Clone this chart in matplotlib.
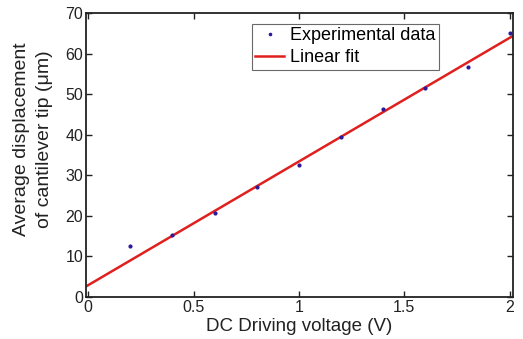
import numpy as np
import matplotlib
matplotlib.use("Agg")
import matplotlib.pyplot as plt

plt.rcParams['font.family'] = ['Liberation Sans', 'DejaVu Sans']

voltage = [0.2, 0.4, 0.6, 0.8, 1.0, 1.2, 1.4, 1.6, 1.8, 2.0]
displacement = [12.6, 15.3, 20.8, 27.2, 32.6, 39.4, 46.3, 51.4, 56.8, 65.1]

# linear fit coefficients (as drawn)
fit_slope = 30.5
fit_intercept = 2.9
fit_range = [-0.01, 2.015]

x_ticks = [0, 0.5, 1, 1.5, 2]
x_tick_labels = ['0', '0.5', '1', '1.5', '2']
y_ticks = [0, 10, 20, 30, 40, 50, 60, 70]

fig = plt.figure(figsize=(5.23, 3.39), dpi=100)
ax = fig.add_axes([0.1644, 0.1239, 0.8164, 0.8378])

ax.plot(voltage, displacement, '.', color='#2a1a9a', markersize=4,
        label='Experimental data', zorder=3)
xf = np.array(fit_range)
ax.plot(xf, fit_slope * xf + fit_intercept, '-', color='#e0201e', lw=1.8,
        label='Linear fit', zorder=2)

ax.set_xlim(fit_range)
ax.set_ylim(0, 70)
ax.set_xticks(x_ticks)
ax.set_xticklabels(x_tick_labels)
ax.set_yticks(y_ticks)
ax.tick_params(direction='in', top=True, right=True, length=4, width=1,
               labelsize=11.5, colors='#222222', pad=2)
for s in ax.spines.values():
    s.set_linewidth(1.3)
    s.set_color('#222222')

ax.set_xlabel('DC Driving voltage (V)', fontsize=13.5, color='#222222', labelpad=2)
ax.set_ylabel('Average displacement\nof cantilever tip (μm)', fontsize=14,
              color='#222222', linespacing=1.4)
ax.yaxis.set_label_coords(-0.078, 0.555)

leg = ax.legend(loc='upper left', bbox_to_anchor=(0.388, 0.962), fontsize=13,
                frameon=True, fancybox=False, borderpad=0.2, handlelength=1.6,
                handletextpad=0.3, labelspacing=0.28, borderaxespad=0,
                markerscale=0.8)
leg.get_frame().set_edgecolor('#444444')
leg.get_frame().set_linewidth(0.8)

fig.savefig('out.png', dpi=100)
